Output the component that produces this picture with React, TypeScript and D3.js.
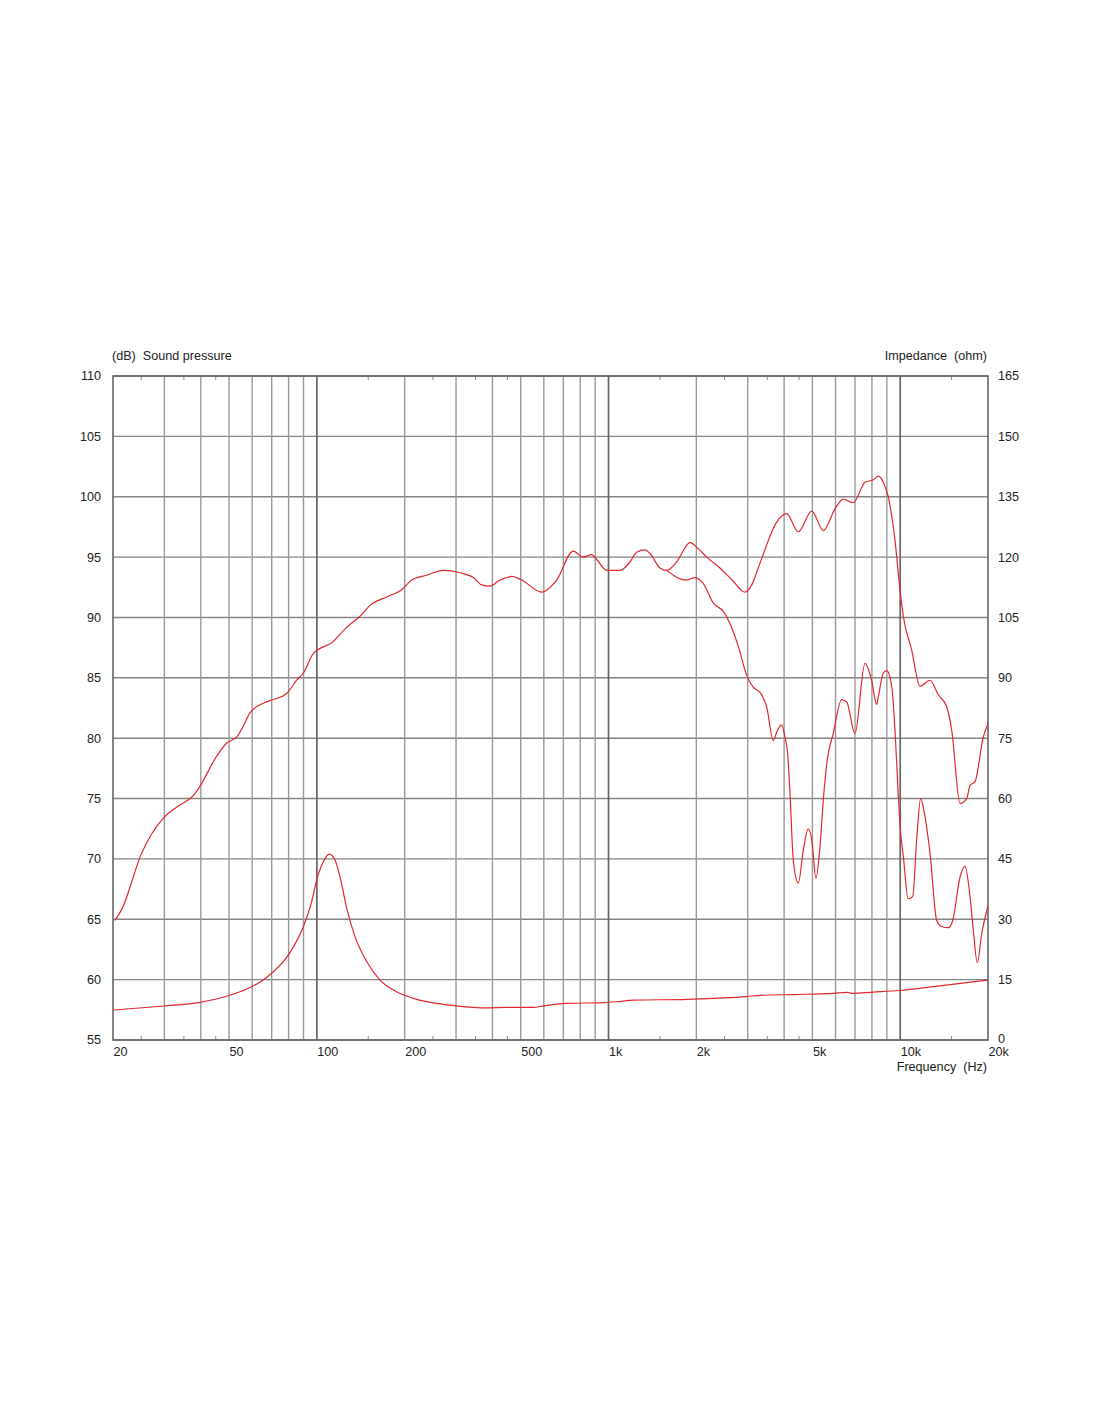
import React from "react";
import * as d3 from "d3";

// ---- data ----
const onAxisFreq = [20.3, 21.4, 25.1, 29.8, 33.1, 38.2, 39.7, 45.3, 49.1, 53.1, 55.9, 59.0, 65.5, 70.9, 78.8, 85.3, 89.9, 97.2, 113.8, 126.6, 140.6, 152.1, 173.5, 195.4, 211.4, 238, 271, 310, 344, 367, 392, 425, 466, 504, 590, 664, 757, 819, 875, 911, 985, 1094, 1185, 1249, 1334, 1387, 1501, 1583, 1713, 1902, 2031, 2170, 2410, 2677, 2937, 3097, 3306, 3771, 4080, 4473, 4973, 5450, 5977, 6380, 6903, 7572, 8085, 8410, 8750, 9100, 9596, 9984, 10250, 10950, 11690, 12650, 13510, 14430, 15010, 16040, 16910, 17350, 18050, 19270, 20000];
const onAxisDb = [64.9, 65.8, 70.5, 73.4, 74.3, 75.4, 76.0, 78.5, 79.6, 80.1, 81.0, 82.1, 82.9, 83.2, 83.7, 84.8, 85.4, 87.0, 88.0, 89.2, 90.1, 91.0, 91.7, 92.3, 93.1, 93.5, 93.9, 93.7, 93.3, 92.7, 92.6, 93.1, 93.4, 93.1, 92.1, 93.1, 95.5, 95.0, 95.2, 94.8, 93.9, 93.9, 94.6, 95.4, 95.6, 95.3, 94.1, 93.9, 94.6, 96.2, 95.7, 95.0, 94.1, 93.0, 92.1, 92.7, 94.5, 97.9, 98.6, 97.1, 98.8, 97.2, 99.0, 99.8, 99.5, 101.2, 101.4, 101.7, 101.2, 100.0, 96.4, 92.3, 90.1, 87.3, 84.3, 84.8, 83.6, 82.6, 80.7, 74.6, 75.0, 76.1, 76.4, 80.1, 81.2];

const offAxisFreq = [1583, 1669, 1757, 1855, 1980, 2114, 2286, 2474, 2608, 2786, 2977, 3137, 3306, 3486, 3672, 3771, 3924, 4027, 4120, 4190, 4300, 4473, 4653, 4840, 4973, 5142, 5309, 5450, 5623, 5897, 6297, 6555, 6998, 7572, 7980, 8300, 8410, 8750, 8988, 9354, 9596, 9854, 10040, 10250, 10650, 11040, 11390, 11750, 12160, 12650, 13340, 13870, 14620, 15140, 16040, 16680, 17350, 17810, 18380, 19030, 20000];
const offAxisDb = [93.9, 93.5, 93.2, 93.1, 93.3, 92.8, 91.2, 90.5, 89.5, 87.6, 85.2, 84.2, 83.8, 82.6, 79.8, 80.5, 81.1, 80.1, 78.5, 75.4, 69.9, 68.0, 70.7, 72.5, 71.6, 68.4, 71.0, 74.9, 78.2, 80.4, 83.2, 83.0, 80.4, 86.2, 84.8, 82.8, 83.4, 85.4, 85.6, 84.3, 80.7, 75.2, 72.1, 70.2, 66.7, 66.9, 71.6, 75.0, 73.5, 70.5, 64.9, 64.4, 64.3, 64.9, 68.5, 69.4, 66.9, 64.1, 61.4, 63.8, 66.1];

const impFreq = [20, 29.8, 39.7, 49.7, 54.5, 59.8, 64.5, 70.0, 79.8, 89.9, 96.0, 99.9, 105.2, 110.3, 115.4, 120, 126.6, 135.1, 148.2, 164.6, 187.8, 220, 257.6, 300, 380, 450, 552, 600, 719, 960, 1062, 1216, 1855, 2350, 2977, 3306, 4300, 5897, 6600, 6800, 8085, 9984, 12980, 16910, 19270, 20000];
const impOhm = [7.45, 8.45, 9.37, 11.0, 12.0, 13.25, 14.6, 16.6, 21.1, 28.2, 34.4, 39.8, 44.3, 46.2, 44.7, 40.6, 32.7, 25.7, 19.5, 14.9, 12.0, 10.1, 9.1, 8.5, 8.0, 8.1, 8.1, 8.5, 9.1, 9.3, 9.5, 9.9, 10.1, 10.4, 10.8, 11.1, 11.3, 11.6, 11.85, 11.6, 11.9, 12.3, 13.25, 14.25, 14.75, 14.9];

const freqLabels = [20, 50, 100, 200, 500, 1000, 2000, 5000, 10000, 20000];
const freqLabelText = ["20", "50", "100", "200", "500", "1k", "2k", "5k", "10k", "20k"];
const gridFreqs = [30, 40, 50, 60, 70, 80, 90, 100, 200, 300, 400, 500, 600, 700, 800, 900, 1000, 2000, 3000, 4000, 5000, 6000, 7000, 8000, 9000, 10000];
const majorFreqs = [100, 1000, 10000];
const minorTickFreqs = [25, 35, 45, 150, 250, 350, 450, 1500, 2500, 3500, 4500, 15000];
const dbTicks = [55, 60, 65, 70, 75, 80, 85, 90, 95, 100, 105, 110];
const ohmTicks = [0, 15, 30, 45, 60, 75, 90, 105, 120, 135, 150, 165];

// ---- layout ----
const W = 1100, H = 1422;
const L = 113, R = 988, T = 376, B = 1040;

export default function App() {
  const x = d3.scaleLog().domain([20, 20000]).range([L, R]);
  const y = d3.scaleLinear().domain([55, 110]).range([B, T]);
  const yR = d3.scaleLinear().domain([0, 165]).range([B, T]);

  const lineDb = d3.line<[number, number]>().x(d => x(d[0])).y(d => y(d[1])).curve(d3.curveMonotoneX);
  const lineOhm = d3.line<[number, number]>().x(d => x(d[0])).y(d => yR(d[1])).curve(d3.curveMonotoneX);

  const onPts = onAxisFreq.map((f, i) => [f, onAxisDb[i]] as [number, number]);
  const offPts = offAxisFreq.map((f, i) => [f, offAxisDb[i]] as [number, number]);
  const impPts = impFreq.map((f, i) => [f, impOhm[i]] as [number, number]);

  const font = "'Liberation Sans', Arial, sans-serif";
  const red = "#e0282e";
  const textColor = "#222";
  const fs = 12.6;

  return (
    <svg width={W} height={H} style={{ position: "absolute", left: 0, top: 0, background: "#fff" }} fontFamily={font}>
      {/* horizontal grid */}
      {dbTicks.map(v => (
        <line key={"h" + v} x1={L} x2={R} y1={y(v)} y2={y(v)} stroke="#858585" strokeWidth={1.4} />
      ))}
      {/* vertical grid */}
      {gridFreqs.map(f => (
        <line key={"v" + f} x1={x(f)} x2={x(f)} y1={T} y2={B}
          stroke={majorFreqs.includes(f) ? "#666" : "#999"} strokeWidth={majorFreqs.includes(f) ? 1.7 : 1.4} />
      ))}
      {/* minor ticks */}
      {minorTickFreqs.map(f => (
        <g key={"t" + f}>
          <line x1={x(f)} x2={x(f)} y1={B - 4} y2={B} stroke="#888" strokeWidth={1} />
          <line x1={x(f)} x2={x(f)} y1={T} y2={T + 4} stroke="#888" strokeWidth={1} />
        </g>
      ))}
      {/* frame */}
      <rect x={L} y={T} width={R - L} height={B - T} fill="none" stroke="#666" strokeWidth={1.6} />

      {/* curves */}
      <path d={lineOhm(impPts) || ""} fill="none" stroke={red} strokeWidth={1.2} />
      <path d={lineDb(offPts) || ""} fill="none" stroke={red} strokeWidth={1.2} />
      <path d={lineDb(onPts) || ""} fill="none" stroke={red} strokeWidth={1.2} />

      {/* left axis labels */}
      {dbTicks.map(v => (
        <text key={"ld" + v} x={101} y={y(v)} dy="0.35em" textAnchor="end" fontSize={fs} fill={textColor}>{v}</text>
      ))}
      {/* right axis labels */}
      {ohmTicks.map(v => (
        <text key={"rd" + v} x={998} y={yR(v) - (v === 0 ? 1 : 0)} dy="0.35em" textAnchor="start" fontSize={fs} fill={textColor}>{v}</text>
      ))}
      {/* bottom labels */}
      {freqLabels.map((f, i) => (
        <text key={"fl" + f} x={x(f) + 0.5} y={1052} dy="0.35em" textAnchor="start" fontSize={fs} fill={textColor}>{freqLabelText[i]}</text>
      ))}
      <text x={112} y={356} dy="0.35em" fontSize={fs} fill={textColor} style={{ whiteSpace: "pre" }}>(dB)  Sound pressure</text>
      <text x={987} y={356} dy="0.35em" textAnchor="end" fontSize={fs} fill={textColor} style={{ whiteSpace: "pre" }}>Impedance  (ohm)</text>
      <text x={987} y={1067} dy="0.35em" textAnchor="end" fontSize={fs} fill={textColor} style={{ whiteSpace: "pre" }}>Frequency  (Hz)</text>
    </svg>
  );
}
